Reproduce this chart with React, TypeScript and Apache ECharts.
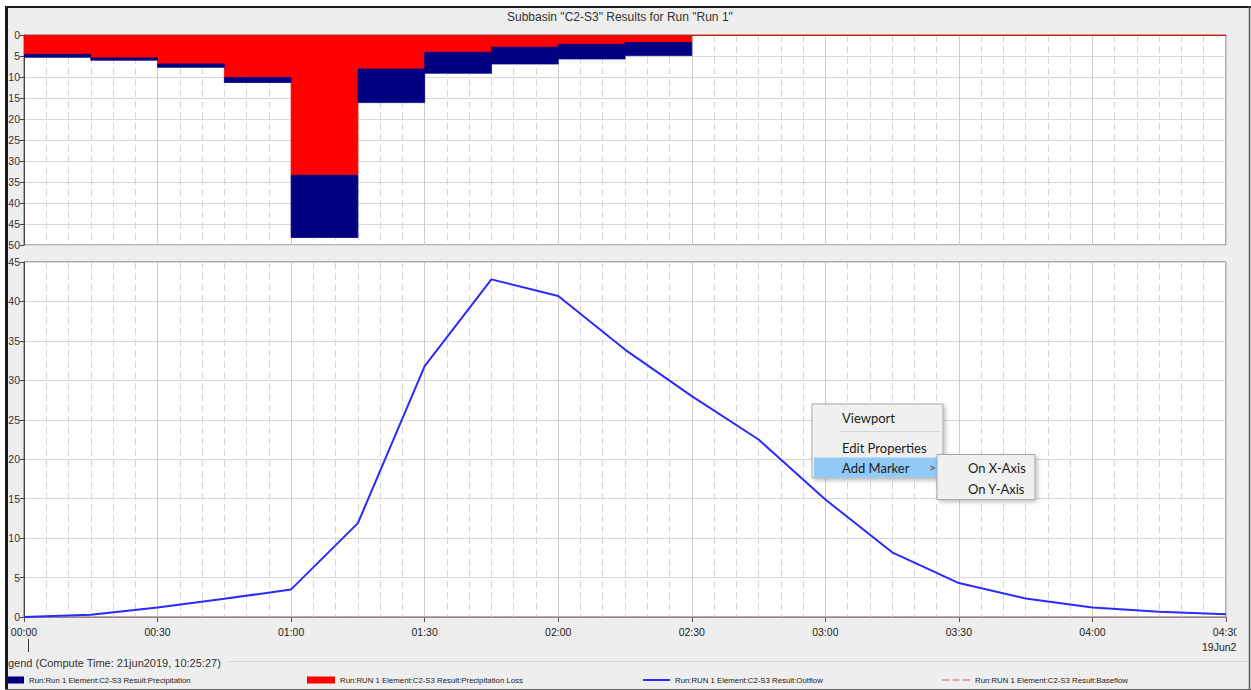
import React, { useEffect, useRef } from "react";
import * as echarts from "echarts";

// ---- data ----
const barStartMinutes = [0, 15, 30, 45, 60, 75, 90, 105, 120, 135];
const barStepMinutes = 15;
const precipitation = [5.3, 6.0, 7.7, 11.3, 48.2, 16.1, 9.1, 6.9, 5.7, 4.9];
const precipitationLoss = [4.6, 5.45, 6.9, 10.1, 33.4, 8.1, 4.1, 2.9, 2.2, 1.8];

const flowMinutes = [0, 15, 30, 45, 60, 75, 90, 105, 120, 135, 150, 165, 180, 195, 210, 225, 240, 255, 270];
const outflow = [0, 0.3, 1.2, 2.3, 3.5, 11.9, 31.8, 42.8, 40.7, 33.9, 28.0, 22.5, 14.9, 8.2, 4.3, 2.35, 1.2, 0.65, 0.35];
const baseflow = [0, 0, 0, 0, 0, 0, 0, 0, 0, 0, 0, 0, 0, 0, 0, 0, 0, 0, 0];

const xTickLabels = ["00:00", "00:30", "01:00", "01:30", "02:00", "02:30", "03:00", "03:30", "04:00", "04:30"];

const seriesNames = [
  "Run:Run 1 Element:C2-S3 Result:Precipitation",
  "Run:RUN 1 Element:C2-S3 Result:Precipitation Loss",
  "Run:RUN 1 Element:C2-S3 Result:Outflow",
  "Run:RUN 1 Element:C2-S3 Result:Baseflow",
];

const titleText = 'Subbasin "C2-S3" Results for Run "Run 1"';
const legendTitle = "gend (Compute Time: 21jun2019, 10:25:27)";
const dateText = "19Jun2";
const menuItems = ["Viewport", "Edit Properties", "Add Marker"];
const subMenuItems = ["On X-Axis", "On Y-Axis"];

const NAVY = "#000080";
const RED = "#ff0000";
const BLUE = "#2a2aff";
const PINK = "#d98c8c";

function rectRenderer(color: string) {
  return (params: any, api: any) => {
    const s = api.value(0);
    const e = api.value(1);
    const lo = api.value(2);
    const hi = api.value(3);
    const a = api.coord([s, lo]);
    const b = api.coord([e, hi]);
    return {
      type: "rect",
      shape: {
        x: a[0],
        y: Math.min(a[1], b[1]),
        width: b[0] - a[0],
        height: Math.abs(b[1] - a[1]),
      },
      style: { fill: color, stroke: color, lineWidth: 0.8 },
    };
  };
}

export default function App() {
  const ref = useRef<HTMLDivElement>(null);

  useEffect(() => {
    if (!ref.current) return;
    const chart = echarts.init(ref.current, undefined, { renderer: "svg" });

    const lossData = barStartMinutes.map((s, i) => [s, s + barStepMinutes, 0, precipitationLoss[i]]);
    const precipData = barStartMinutes.map((s, i) => [s, s + barStepMinutes, precipitationLoss[i], precipitation[i]]);
    const outflowData = flowMinutes.map((m, i) => [m, outflow[i]]);
    const baseflowData = flowMinutes.map((m, i) => [m, baseflow[i]]);

    const gridLines = {
      splitLine: { show: true, lineStyle: { color: "#cdcdcd", width: 1 } },
      minorSplitLine: { show: true, lineStyle: { color: "#d6d6d6", width: 1, type: [7, 4] } },
      minorTick: { show: false, splitNumber: 6 },
    };

    const yCommon = {
      type: "value",
      interval: 5,
      axisLine: { show: true, lineStyle: { color: "#444" } },
      axisTick: { show: true, length: 4, lineStyle: { color: "#444" } },
      axisLabel: { color: "#333", fontSize: 10.5, margin: 4, fontFamily: "Liberation Sans" },
      splitLine: { show: true, lineStyle: { color: "#d9d9d9" } },
    };

    const legendText = { fontSize: 7.8, fontFamily: "Liberation Sans", color: "#222" };

    const menuFont = "13px Lato";

    const option: any = {
      animation: false,
      backgroundColor: "#eeeeee",
      textStyle: { fontFamily: "Liberation Sans" },
      title: {
        text: titleText,
        left: 507,
        top: 11,
        padding: 0,
        textStyle: { fontSize: 12, fontWeight: "normal", color: "#333", fontFamily: "Liberation Sans" },
      },
      grid: [
        { left: 24, top: 35, width: 1202, height: 210, show: true, backgroundColor: "#ffffff", borderColor: "#666", borderWidth: 1 },
        { left: 24, top: 262, width: 1202, height: 355, show: true, backgroundColor: "#ffffff", borderColor: "#666", borderWidth: 1 },
      ],
      xAxis: [
        {
          type: "value",
          gridIndex: 0,
          min: 0,
          max: 270,
          interval: 30,
          position: "top",
          axisLine: { show: true, onZero: false, lineStyle: { color: RED, width: 1 } },
          axisTick: { show: false },
          axisLabel: { show: false },
          ...gridLines,
        },
        {
          type: "value",
          gridIndex: 1,
          min: 0,
          max: 270,
          interval: 30,
          position: "bottom",
          axisLine: { show: true, onZero: false, lineStyle: { color: "#888" } },
          axisTick: { show: true, length: 5, lineStyle: { color: "#555" } },
          axisLabel: {
            color: "#222",
            fontSize: 10.5,
            margin: 9,
            fontFamily: "Liberation Sans",
            showMaxLabel: true,
            formatter: (v: number) => xTickLabels[Math.round(v / 30)] ?? "",
          },
          ...gridLines,
        },
      ],
      yAxis: [
        { ...yCommon, gridIndex: 0, min: 0, max: 50, inverse: true },
        { ...yCommon, gridIndex: 1, min: 0, max: 45 },
      ],
      legend: [
        {
          data: [{ name: seriesNames[0], icon: "rect", itemStyle: { color: NAVY } }],
          left: 2, top: 676, padding: 0, itemWidth: 22, itemHeight: 7, selectedMode: false, textStyle: legendText,
        },
        {
          data: [{ name: seriesNames[1], icon: "rect", itemStyle: { color: RED } }],
          left: 307, top: 676, padding: 0, itemWidth: 28, itemHeight: 7, selectedMode: false, textStyle: legendText,
        },
        {
          data: [{ name: seriesNames[2], icon: "rect", itemStyle: { color: BLUE, borderWidth: 0 } }],
          left: 643, top: 676, padding: 0, itemWidth: 27, itemHeight: 2, selectedMode: false, textStyle: legendText,
        },
        {
          data: [{ name: seriesNames[3], icon: "path://M0,0h7v1.5h-7z M10.5,0h7v1.5h-7z M21,0h7v1.5h-7z", itemStyle: { color: PINK, borderWidth: 0 } }],
          left: 942, top: 676, padding: 0, itemWidth: 28, itemHeight: 1.5, selectedMode: false, textStyle: legendText,
        },
      ],
      series: [
        {
          name: seriesNames[1],
          type: "custom",
          xAxisIndex: 0,
          yAxisIndex: 0,
          itemStyle: { color: RED },
          renderItem: rectRenderer(RED),
          encode: { x: [0, 1], y: [2, 3] },
          data: lossData,
          clip: true,
        },
        {
          name: seriesNames[0],
          type: "custom",
          xAxisIndex: 0,
          yAxisIndex: 0,
          itemStyle: { color: NAVY },
          renderItem: rectRenderer(NAVY),
          encode: { x: [0, 1], y: [2, 3] },
          data: precipData,
          clip: true,
        },
        {
          name: seriesNames[3],
          type: "line",
          xAxisIndex: 1,
          yAxisIndex: 1,
          data: baseflowData,
          showSymbol: false,
          color: PINK,
          lineStyle: { color: PINK, width: 1, type: [6, 4] },
          z: 2,
        },
        {
          name: seriesNames[2],
          type: "line",
          xAxisIndex: 1,
          yAxisIndex: 1,
          data: outflowData,
          showSymbol: false,
          color: BLUE,
          lineStyle: { color: BLUE, width: 2 },
          z: 3,
        },
      ],
      graphic: [
        // legend heading and separator
        {
          type: "text", x: 8, y: 663, z: 10,
          style: { text: legendTitle, font: "11px 'Liberation Sans'", fill: "#333", textVerticalAlign: "middle" },
        },
        { type: "line", z: 10, shape: { x1: 228, y1: 661.5, x2: 1247, y2: 661.5 }, style: { stroke: "#d2d2d2", lineWidth: 1 } },
        // date under axis
        {
          type: "text", x: 1202, y: 647, z: 10,
          style: { text: dateText, font: "10.5px 'Liberation Sans'", fill: "#222", textVerticalAlign: "middle" },
        },
        { type: "line", z: 10, shape: { x1: 28.5, y1: 639, x2: 28.5, y2: 652 }, style: { stroke: "#333", lineWidth: 1 } },
        // right clip cover for the last tick label
        { type: "rect", z: 90, shape: { x: 1236.5, y: 621, width: 11, height: 18 }, style: { fill: "#eeeeee" } },
        // outer margins and frame
        { type: "rect", z: 95, shape: { x: 0, y: 0, width: 1251, height: 6 }, style: { fill: "#ffffff" } },
        { type: "rect", z: 95, shape: { x: 0, y: 0, width: 5, height: 690 }, style: { fill: "#ffffff" } },
        { type: "rect", z: 96, shape: { x: 5, y: 6, width: 1246, height: 2 }, style: { fill: "#1a1a1a" } },
        { type: "rect", z: 96, shape: { x: 5, y: 6, width: 3, height: 684 }, style: { fill: "#1a1a1a" } },
        { type: "line", z: 96, shape: { x1: 1249.5, y1: 6, x2: 1249.5, y2: 690 }, style: { stroke: "#555", lineWidth: 1.5 } },
        { type: "line", z: 96, shape: { x1: 5, y1: 689.5, x2: 1251, y2: 689.5 }, style: { stroke: "#666", lineWidth: 1 } },
        // context menu
        {
          type: "group",
          z: 60,
          children: [
            {
              type: "rect", z: 60,
              shape: { x: 812, y: 404, width: 131, height: 74 },
              style: { fill: "#f0f0f0", stroke: "#a8a8a8", lineWidth: 1, shadowBlur: 4, shadowColor: "rgba(0,0,0,0.25)", shadowOffsetX: 2, shadowOffsetY: 2 },
            },
            { type: "line", z: 61, shape: { x1: 840, y1: 431.5, x2: 940, y2: 431.5 }, style: { stroke: "#d5d5d5", lineWidth: 1 } },
            { type: "rect", z: 61, shape: { x: 814, y: 457.5, width: 126, height: 20 }, style: { fill: "#91c9f7" } },
            { type: "text", z: 62, x: 842, y: 418, style: { text: menuItems[0], font: menuFont, fill: "#1b1b1b", textVerticalAlign: "middle" } },
            { type: "text", z: 62, x: 842, y: 448, style: { text: menuItems[1], font: menuFont, fill: "#1b1b1b", textVerticalAlign: "middle" } },
            { type: "text", z: 62, x: 842, y: 468, style: { text: menuItems[2], font: menuFont, fill: "#1b1b1b", textVerticalAlign: "middle" } },
            { type: "text", z: 62, x: 929, y: 467, style: { text: ">", font: "12px Lato", fill: "#555", textVerticalAlign: "middle" } },
            {
              type: "rect", z: 63,
              shape: { x: 937, y: 454.5, width: 98, height: 45 },
              style: { fill: "#f0f0f0", stroke: "#a8a8a8", lineWidth: 1, shadowBlur: 4, shadowColor: "rgba(0,0,0,0.25)", shadowOffsetX: 2, shadowOffsetY: 2 },
            },
            { type: "text", z: 64, x: 968, y: 468, style: { text: subMenuItems[0], font: menuFont, fill: "#1b1b1b", textVerticalAlign: "middle" } },
            { type: "text", z: 64, x: 968, y: 489, style: { text: subMenuItems[1], font: menuFont, fill: "#1b1b1b", textVerticalAlign: "middle" } },
          ],
        },
      ],
    };

    chart.setOption(option);
    return () => {
      chart.dispose();
    };
  }, []);

  return (
    <div
      ref={ref}
      style={{ position: "absolute", left: 0, top: 0, width: 1251, height: 690 }}
    />
  );
}
